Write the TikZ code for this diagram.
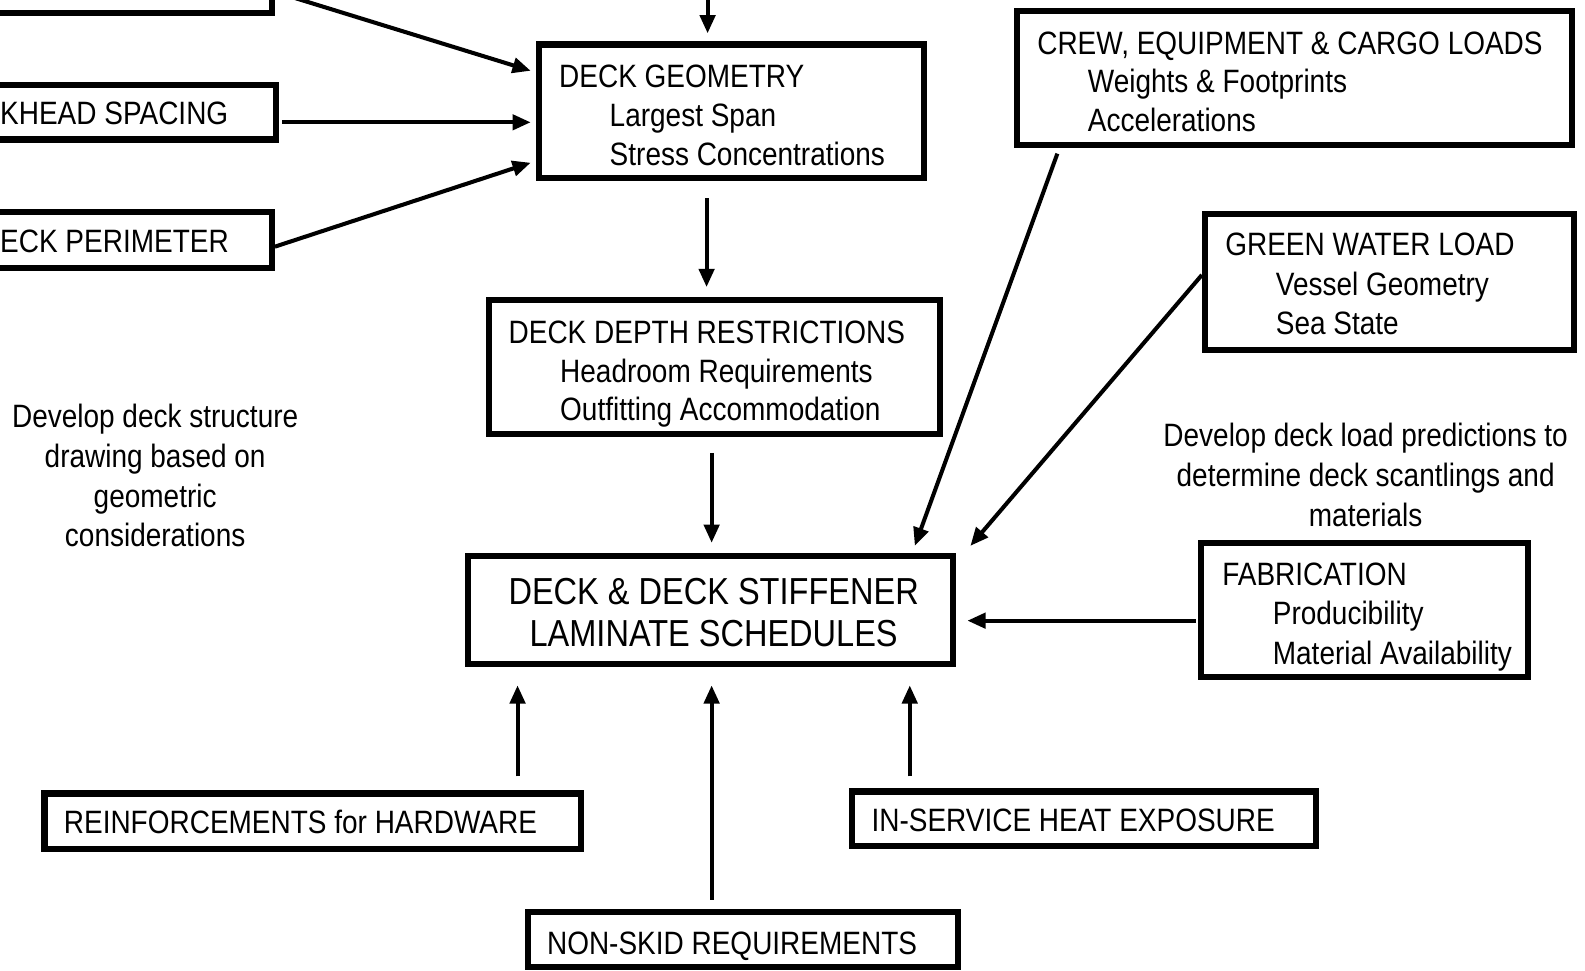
\documentclass[tikz,border=0pt]{standalone}
\usepackage{fontspec}
\setmainfont[FakeStretch=0.865]{Liberation Sans}
\usetikzlibrary{arrows.meta}
\newcommand\fsnorm{\fontsize{32}{38}\selectfont}
\newcommand\fsbig{\fontsize{37.2}{42}\selectfont}
\begin{document}
\begin{tikzpicture}[x=1pt,y=-1pt,
 box/.style={draw, line width=6pt, inner sep=0pt, outer sep=0pt, rectangle},
 txt/.style={anchor=base west, inner sep=0pt, font=\fsnorm},
 ctr/.style={anchor=base, inner sep=0pt, font=\fsnorm},
 arr/.style={line width=4pt, -{Triangle[length=18pt,width=15pt]}}]
\useasboundingbox (0,0) rectangle (1568,960);
\clip (0,0) rectangle (1568,960);
% boxes
\node[box, minimum width=369pt, minimum height=113pt] (tl) at (84.5,-43.5) {};
\node[box, minimum width=373pt, minimum height=54pt] (bs) at (86.5,111) {};
\node[box, minimum width=369pt, minimum height=55pt] (dp) at (84.5,237.5) {};
\node[box, minimum width=381pt, minimum height=132pt] (dg) at (723.5,110) {};
\node[box, minimum width=446pt, minimum height=132pt] (ddr) at (707,363) {};
\node[box, minimum width=480pt, minimum height=107pt] (main) at (703,603.5) {};
\node[box, minimum width=549pt, minimum height=132pt] (crew) at (1280.5,77) {};
\node[box, minimum width=365pt, minimum height=134pt] (green) at (1374.5,279) {};
\node[box, minimum width=324pt, minimum height=133pt] (fab) at (1350,603.5) {};
\node[box, minimum width=531pt, minimum height=55pt] (reinf) at (309.5,812.5) {};
\node[box, minimum width=459pt, minimum height=54pt] (heat) at (1072.5,810) {};
\node[box, minimum width=426pt, minimum height=55pt] (skid) at (735,929.5) {};
% texts
\node[txt] (tbs) at (0,123) {KHEAD SPACING};
\node[txt] (tdp) at (0,250) {ECK PERIMETER};
\node[txt] (tdg1) at (553,87) {DECK GEOMETRY};
\node[txt] (tdg2) at (603,125.5) {Largest Span};
\node[txt] (tdg3) at (603,164) {Stress Concentrations};
\node[txt] (tdd1) at (503,340) {DECK DEPTH RESTRICTIONS};
\node[txt] (tdd2) at (554,378) {Headroom Requirements};
\node[txt] (tdd3) at (554,416) {Outfitting Accommodation};
\node[txt] (tcr1) at (1026,54) {CREW, EQUIPMENT \& CARGO LOADS};
\node[txt] (tcr2) at (1076,92) {Weights \& Footprints};
\node[txt] (tcr3) at (1076,130) {Accelerations};
\node[txt] (tgr1) at (1212,253) {GREEN WATER LOAD};
\node[txt] (tgr2) at (1262,292) {Vessel Geometry};
\node[txt] (tgr3) at (1262,331) {Sea State};
\node[txt] (tfa1) at (1209,579) {FABRICATION};
\node[txt] (tfa2) at (1259,618) {Producibility};
\node[txt] (tfa3) at (1259,657) {Material Availability};
\node[ctr, font=\fsbig] (tm1) at (706,598) {DECK \& DECK STIFFENER};
\node[ctr, font=\fsbig] (tm2) at (706,640) {LAMINATE SCHEDULES};
\node[ctr] (tr1) at (1351,442) {Develop deck load predictions to};
\node[ctr] (tr2) at (1351,481.5) {determine deck scantlings and};
\node[ctr] (tr3) at (1351,521) {materials};
\node[ctr] (tl1) at (153.5,423) {Develop deck structure};
\node[ctr] (tl2) at (153.5,462) {drawing based on};
\node[ctr] (tl3) at (153.5,502) {geometric};
\node[ctr] (tl4) at (153.5,541) {considerations};
\node[txt] (tre) at (63,825) {REINFORCEMENTS for HARDWARE};
\node[txt] (the) at (862,823) {IN-SERVICE HEAT EXPOSURE};
\node[txt] (tsk) at (541,944) {NON-SKID REQUIREMENTS};
% arrows
\coordinate (topin) at (700,-5);
\draw[arr] ([shift={(0,34.5)}]tl.east) -- ([shift={(-8,-40)}]dg.west);
\draw[arr] ([shift={(6,10)}]bs.east) -- ([shift={(-8,11)}]dg.west);
\draw[arr] ([shift={(3,6.5)}]dp.east) -- ([shift={(-8,51)}]dg.west);
\draw[arr] (topin) -- ([shift={(-23.5,-11)}]dg.north);
\draw[arr] ([shift={(-24.5,20)}]dg.south) -- ([shift={(-8,-13)}]ddr.north);
\draw[arr] ([shift={(-3,19)}]ddr.south) -- ([shift={(1,-13)}]main.north);
\draw[arr] ([shift={(202.5,-17)}]reinf.north) -- ([shift={(-191,21)}]main.south);
\draw[arr] ([shift={(-31,-12)}]skid.north) -- ([shift={(1,21)}]main.south);
\draw[arr] ([shift={(-172.5,-15)}]heat.north) -- ([shift={(197,21)}]main.south);
\draw[arr] ([shift={(-5,10.5)}]fab.west) -- ([shift={(14,10.5)}]main.east);
\draw[arr] ([shift={(-234.5,9)}]crew.south) -- ([shift={(202,-10)}]main.north);
\draw[arr] ([shift={(-3,-7)}]green.west) -- ([shift={(17,-10)}]main.north east);
\end{tikzpicture}
\end{document}
